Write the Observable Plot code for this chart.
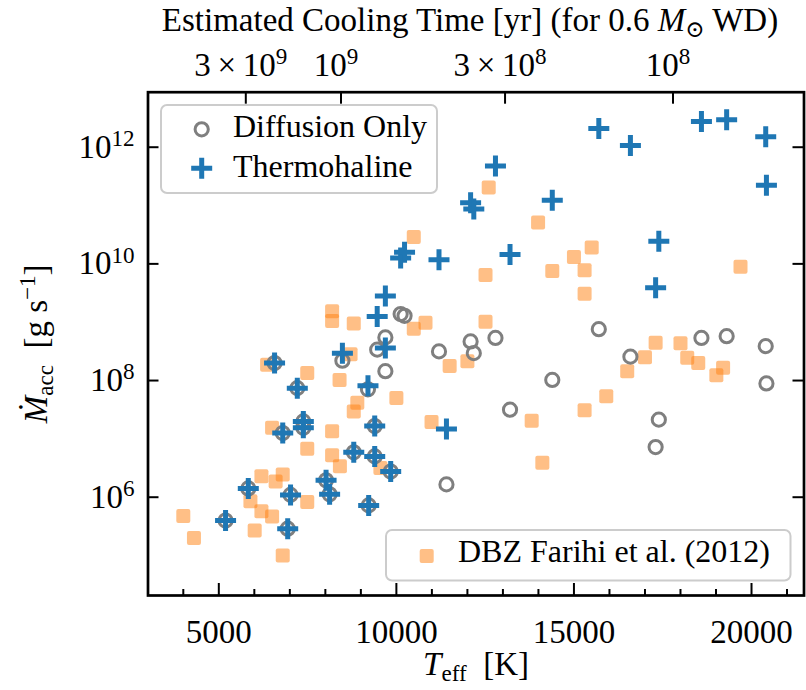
<!DOCTYPE html>
<html><head><meta charset="utf-8">
<script src="https://cdn.jsdelivr.net/npm/d3@7"></script>
<script src="https://cdn.jsdelivr.net/npm/@observablehq/plot@0.6"></script>
<style>
body{margin:0;background:#fff;}
#wrap{position:relative;width:806px;height:690px;}
#overlay{position:absolute;left:0;top:0;pointer-events:none;}
</style></head><body><div id="wrap"></div>
<script>
// ---- Data ----
// Model white dwarfs: effective temperature [K] and log10 accretion rate [g/s]
const modelTeff = [5190,5830,6570,6800,6940,7020,7210,7380,7380,8020,8120,8800,9200,9220,9390,9390,9840,8480,9460,9690,9690,10120,10230,11200,11410,12090,12180,12790,13200,14390,15700,16590,17390,17300,18590,19300,20400,20420];
const logMdotDiffusion = [5.60,6.15,8.30,7.10,5.46,6.04,7.87,7.30,7.19,6.29,6.05,6.77,7.85,5.86,7.22,6.70,6.44,8.34,8.53,8.74,8.16,9.14,9.11,8.50,6.22,8.67,8.47,8.73,7.50,8.01,8.88,8.41,7.33,6.86,8.73,8.76,8.59,7.95];
const logMdotThermohaline = [5.60,6.15,8.30,7.10,5.46,6.04,7.87,7.30,7.19,6.29,6.05,6.77,7.91,5.86,7.22,6.70,6.44,8.47,9.10,9.45,8.56,10.10,10.20,10.07,7.17,11.05,10.94,11.68,10.16,11.09,12.32,12.03,10.39,9.59,12.44,12.47,12.18,11.35];
// DBZ sample, Farihi et al. (2012)
const farihiTeff = [10490,8190,8190,8800,10490,10820,12600,13990,15500,15000,12510,14390,15300,15300,19690,12510,17300,18000,17000,18190,18500,16500,19200,19010,15910,15300,13810,14110,8710,11500,12000,6360,7490,8400,10000,8900,8800,6500,8190,10990,7490,8190,8410,9550,6200,6600,6800,5890,7490,6200,6500,4000,4300,6010,6800];
const farihiLogMdot = [10.46,9.19,9.02,8.98,8.89,8.99,11.31,10.71,10.28,10.12,9.81,9.88,9.89,9.49,9.95,9.01,8.65,8.64,8.40,8.39,8.30,8.16,8.22,8.09,7.73,7.49,7.31,6.59,8.45,8.25,8.33,8.27,8.13,8.01,7.70,7.62,7.47,7.19,7.13,7.29,6.83,6.72,6.53,6.50,6.36,6.27,6.39,5.93,5.92,5.76,5.67,5.68,5.30,5.43,5.00];
// Axes
const xMajorTicks = [5000,10000,15000,20000];
const xMinorTicks = [4000,6000,7000,8000,9000,11000,12000,13000,14000,16000,17000,18000,19000,21000];
const yTicks = [1e6,1e8,1e10,1e12];
const yTickLabels = ["10^{6}","10^{8}","10^{10}","10^{12}"];
const topTickTeff = [5760,8440,13060,17790];
const topTickLabels = ["3\u2009×\u200910^{9}","10^{9}","3\u2009×\u200910^{8}","10^{8}"];
const xLimits = [3006,21478];
const yLimits = [Math.pow(10,4.315), Math.pow(10,12.943)];
const topTitle = "Estimated Cooling Time [yr] (for 0.6 *M*_{⊙} WD)";
const xTitle = "*T*_{eff}\u2002[K]";
const yTitle = "*Ṁ*_{acc}\u2002[g s^{−1}]";
const legendLabels = ["Diffusion Only","Thermohaline","DBZ Farihi et al. (2012)"];

const models = modelTeff.map((t,i)=>({teff:t, diff:Math.pow(10,logMdotDiffusion[i]), thermo:Math.pow(10,logMdotThermohaline[i])}));
const farihi = farihiTeff.map((t,i)=>({teff:t, mdot:Math.pow(10,farihiLogMdot[i])}));

const FONT = '"Liberation Serif","DejaVu Serif",serif';
const ORANGE = "#ff7f0e", BLUE = "#1f77b4", GRAY = "#7f7f7f";
const W=806,H=690, mL=147.5, mR=2.5, mT=91.7, mB=95;
const fw=W-mL-mR, fh=H-mT-mB;

const roundedSquare = {draw(ctx,size){const h=Math.sqrt(size/Math.PI), c=2;
  ctx.moveTo(-h+c,-h); ctx.lineTo(h-c,-h); ctx.arcTo(h,-h,h,-h+c,c); ctx.lineTo(h,h-c); ctx.arcTo(h,h,h-c,h,c);
  ctx.lineTo(-h+c,h); ctx.arcTo(-h,h,-h,h-c,c); ctx.lineTo(-h,-h+c); ctx.arcTo(-h,-h,-h+c,-h,c); ctx.closePath();}};
const plusSymbol = {draw(ctx,size){const h=Math.sqrt(size/Math.PI);
  ctx.moveTo(-h,0); ctx.lineTo(h,0); ctx.moveTo(0,-h); ctx.lineTo(0,h);}};

const tickStyle = {stroke:"black", strokeWidth:2};
const plot = Plot.plot({
  width:W, height:H, marginLeft:mL, marginRight:mR, marginTop:mT, marginBottom:mB,
  style:{fontFamily:FONT, fontSize:"33px", background:"white", overflow:"visible"},
  x:{domain:xLimits, label:null},
  y:{type:"log", domain:yLimits, label:null},
  marks:[
    Plot.dot(farihi, {x:"teff", y:"mdot", symbol:roundedSquare, r:7, fill:ORANGE, fillOpacity:0.5, stroke:"none"}),
    Plot.dot(models, {x:"teff", y:"diff", r:6.6, stroke:GRAY, strokeWidth:3, fill:"none"}),
    Plot.dot(models, {x:"teff", y:"thermo", symbol:plusSymbol, r:10.5, stroke:BLUE, strokeWidth:5, fill:"none"}),
    Plot.ruleX(xMajorTicks, {insetTop:fh-12, ...tickStyle}),
    Plot.ruleX(xMinorTicks, {insetTop:fh-6, ...tickStyle}),
    Plot.ruleX(topTickTeff, {insetBottom:fh-12, ...tickStyle}),
    Plot.ruleY(yTicks, {insetRight:fw-11, ...tickStyle}),
    Plot.ruleY(yTicks, {insetLeft:fw-11, ...tickStyle}),
    Plot.frame({stroke:"black", strokeWidth:2.7}),
    Plot.axisX({anchor:"bottom", ticks:xMajorTicks, tickFormat:d=>String(d), tickSize:0, tickPadding:23.6, label:null}),
    Plot.axisX({anchor:"top", ticks:topTickTeff, tickFormat:d=>topTickLabels[topTickTeff.indexOf(d)], tickSize:0, tickPadding:16.7, dx:-5, label:null}),
    Plot.axisY({anchor:"left", ticks:yTicks, tickFormat:d=>yTickLabels[yTicks.indexOf(d)], tickSize:0, tickPadding:13.5, label:null}),
    Plot.text([xTitle], {text:d=>d, frameAnchor:"bottom", lineAnchor:"middle", textAnchor:"middle", dy:69.4, fontSize:33}),
    Plot.text([yTitle], {text:d=>d, frameAnchor:"left", lineAnchor:"middle", textAnchor:"middle", rotate:-90, dx:-112, fontSize:33}),
    Plot.text([topTitle], {text:d=>d, frameAnchor:"top", lineAnchor:"middle", textAnchor:"middle", dy:-71.3, dx:-6, fontSize:33})
  ]
});

// rich text: ^{sup}, _{sub}, *italic*
function rich(el){
  const s = el.textContent;
  if (!/[\^_*]/.test(s)) return;
  const base = parseFloat(getComputedStyle(el).fontSize) || 33;
  const toks = s.match(/(\^\{[^}]*\}|_\{[^}]*\}|\*[^*]*\*|[^\^_*]+)/g);
  el.textContent = "";
  let shift = 0;
  for (const tk of toks){
    let txt = tk, mode = "n";
    if (tk.startsWith("^{")) {mode="sup"; txt=tk.slice(2,-1);}
    else if (tk.startsWith("_{")) {mode="sub"; txt=tk.slice(2,-1);}
    else if (tk.startsWith("*")) {mode="it"; txt=tk.slice(1,-1);}
    const ts = document.createElementNS("http://www.w3.org/2000/svg","tspan");
    ts.textContent = txt;
    const target = mode==="sup" ? -0.36*base : mode==="sub" ? 0.18*base : 0;
    const dy = target - shift;
    if (Math.abs(dy) > 1e-6) ts.setAttribute("dy", dy.toFixed(2));
    shift = target;
    if (mode==="sup"||mode==="sub") ts.setAttribute("font-size", (0.7*base).toFixed(1));
    if (mode==="it") ts.setAttribute("font-style","italic");
    el.appendChild(ts);
  }
}
plot.querySelectorAll("text").forEach(rich);

const wrap = document.getElementById("wrap");
wrap.appendChild(plot);

// Legends (overlay)
const ns = "http://www.w3.org/2000/svg";
const ov = document.createElementNS(ns,"svg");
ov.setAttribute("id","overlay"); ov.setAttribute("width",W); ov.setAttribute("height",H);
ov.style.fontFamily = FONT;
function el(tag, attrs, parent){const e=document.createElementNS(ns,tag); for(const k in attrs) e.setAttribute(k,attrs[k]); parent.appendChild(e); return e;}
function symPath(sym, r){const p=d3.path(); sym.draw(p, r*r*Math.PI); return p.toString();}
// box 1
el("rect",{x:161,y:105,width:276,height:88,rx:6,fill:"white","fill-opacity":0.8,stroke:"#cccccc","stroke-width":2},ov);
el("circle",{cx:201.7,cy:129.3,r:6.6,fill:"none",stroke:GRAY,"stroke-width":3},ov);
el("path",{d:symPath(plusSymbol,10.5),transform:"translate(201.7,168.3)",fill:"none",stroke:BLUE,"stroke-width":5},ov);
el("text",{x:233,y:137,"font-size":32},ov).textContent = legendLabels[0];
el("text",{x:233,y:177,"font-size":32},ov).textContent = legendLabels[1];
// box 2
el("rect",{x:386,y:530,width:404.5,height:50.5,rx:6,fill:"white","fill-opacity":0.8,stroke:"#cccccc","stroke-width":2},ov);
el("path",{d:symPath(roundedSquare,7),transform:"translate(426.7,556)",fill:ORANGE,"fill-opacity":0.5},ov);
el("text",{x:458,y:562,"font-size":32},ov).textContent = legendLabels[2];
wrap.appendChild(ov);
</script></body></html>
